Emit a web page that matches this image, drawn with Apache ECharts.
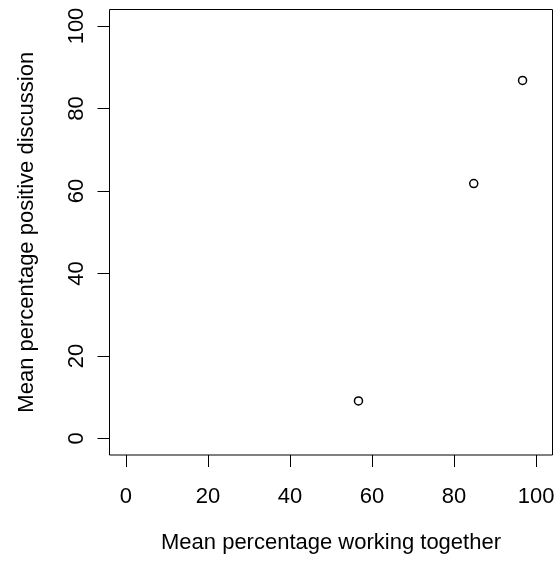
<!DOCTYPE html>
<html>
<head>
<meta charset="utf-8">
<script src="https://cdn.jsdelivr.net/npm/echarts@6/dist/echarts.min.js"></script>
<style>
  html, body { margin: 0; padding: 0; background: #fff; }
  #chart { width: 560px; height: 565px; }
</style>
</head>
<body>
<div id="chart"></div>
<script>
// Mean percentage of time spent working together vs. positive discussion
const workingTogether = [56.7, 84.8, 96.7];
const positiveDiscussion = [9.1, 61.8, 86.8];
const xTicks = [0, 20, 40, 60, 80, 100];
const yTicks = [0, 20, 40, 60, 80, 100];
const xTitle = 'Mean percentage working together';
const yTitle = 'Mean percentage positive discussion';

const points = workingTogether.map((x, i) => [x, positiveDiscussion[i]]);
const FONT = 'Liberation Sans, Arial, sans-serif';
const FS = 22;

const chart = echarts.init(document.getElementById('chart'), null, { renderer: 'canvas' });
chart.setOption({
  backgroundColor: '#ffffff',
  animation: false,
  grid: {
    left: 109.5, top: 9.5, right: 7.5, bottom: 110,
    show: true, borderColor: '#000', borderWidth: 1, backgroundColor: 'transparent'
  },
  xAxis: {
    type: 'value', min: -4, max: 104,
    name: xTitle, nameLocation: 'middle', nameGap: 77,
    nameTextStyle: { fontFamily: FONT, fontSize: FS, color: '#000' },
    splitLine: { show: false },
    axisLine: { show: false, onZero: false },
    axisTick: { show: true, inside: false, length: 12, customValues: xTicks,
                lineStyle: { color: '#000', width: 1 } },
    axisLabel: { customValues: xTicks, margin: 31, fontFamily: FONT, fontSize: FS, color: '#000' }
  },
  yAxis: {
    type: 'value', min: -4, max: 104,
    name: yTitle, nameLocation: 'middle', nameGap: 72, nameRotate: 90,
    nameTextStyle: { fontFamily: FONT, fontSize: FS, color: '#000' },
    splitLine: { show: false },
    axisLine: { show: false, onZero: false },
    axisTick: { show: true, inside: false, length: 12, customValues: yTicks,
                lineStyle: { color: '#000', width: 1 } },
    axisLabel: { customValues: yTicks, rotate: 90, margin: 22, fontFamily: FONT, fontSize: FS, color: '#000' }
  },
  series: [{
    type: 'scatter',
    data: points,
    symbol: 'circle',
    symbolSize: 8,
    itemStyle: { color: 'rgba(0,0,0,0)', borderColor: '#000', borderWidth: 1.5, opacity: 1 },
    emphasis: { disabled: true }
  }]
});
</script>
</body>
</html>
